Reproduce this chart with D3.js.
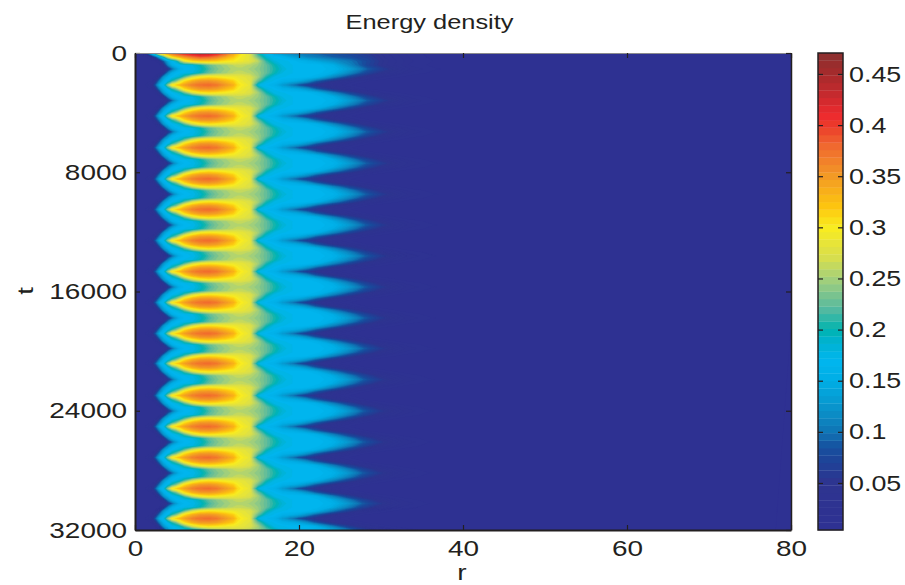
<!DOCTYPE html>
<html>
<head>
<meta charset="utf-8">
<script src="https://cdn.jsdelivr.net/npm/d3@7"></script>
<style>
  body { margin: 0; background: #fff; }
  text { font-family: "Liberation Sans", sans-serif; fill: #231f20; }
</style>
</head>
<body>
<div id="visualization"></div>
<script>
// Radius grid of the sampled profiles
const rGrid = [0,1,2,2.5,3,3.5,4,4.5,5,5.5,6,7,8,9,10,11,12,12.5,13,14,15,16,17,18,19,20,21,22,24,26,28,30,33,36,40,50,60,80];

// Energy density along r at eighths of one oscillation
const crestProfile = [.004,.006,.03,.09,.15,.175,.24,.295,.315,.33,.345,.365,.375,.378,.37,.352,.335,.31,.30,.285,.18,.165,.155,.13,.105,.08,.06,.045,.025,.012,.006,.004,.004,.004,.004,.004,.004,.004];
const nearProfile  = [.004,.004,.012,.05,.11,.155,.175,.205,.23,.27,.305,.335,.35,.352,.345,.33,.315,.30,.29,.28,.225,.18,.17,.155,.15,.14,.12,.09,.05,.025,.012,.006,.004,.004,.004,.004,.004,.004];
const sideProfile  = [.004,.004,.004,.015,.06,.125,.155,.17,.178,.19,.22,.27,.295,.303,.30,.295,.29,.287,.285,.275,.25,.205,.175,.172,.17,.17,.165,.155,.11,.07,.038,.018,.007,.005,.004,.004,.004,.004];
const farProfile   = [.004,.004,.004,.004,.01,.05,.11,.15,.165,.17,.172,.178,.20,.225,.24,.25,.26,.262,.262,.258,.245,.225,.20,.178,.172,.17,.17,.17,.15,.11,.072,.042,.017,.008,.006,.004,.004,.004];
const midProfile   = [.004,.004,.004,.004,.006,.02,.05,.09,.13,.155,.165,.172,.19,.215,.235,.245,.255,.257,.257,.25,.24,.225,.205,.185,.172,.17,.17,.17,.16,.13,.09,.06,.025,.012,.008,.004,.004,.004];

// The first pulse at t = 0 is taller and has its own profiles
const firstCrest = [.004,.03,.17,.24,.31,.34,.36,.38,.40,.41,.42,.435,.45,.445,.42,.39,.35,.325,.305,.275,.20,.17,.13,.115,.105,.10,.095,.09,.08,.07,.055,.035,.015,.007,.005,.004,.004,.004];
const firstNear  = [.004,.004,.03,.08,.14,.20,.26,.30,.32,.335,.35,.37,.385,.38,.365,.34,.32,.305,.295,.28,.23,.185,.17,.16,.14,.125,.11,.105,.09,.08,.065,.04,.017,.008,.005,.004,.004,.004];
const firstSide  = [.004,.004,.004,.01,.04,.09,.14,.165,.19,.24,.28,.31,.32,.32,.315,.305,.30,.295,.29,.28,.26,.21,.18,.175,.17,.16,.15,.14,.12,.10,.075,.045,.02,.01,.006,.004,.004,.004];

// Times of the pulses, read from the blobs
const crestTimes = [0,2150,4230,6350,8450,10500,12580,14660,16740,18820,20830,22980,25060,27140,29220,31230];

// The outer chevrons reach a little less far as t grows
const reachTimes = [0,32000];
const reachFactors = [1.04,0.97];

const rTicks = [0,20,40,60,80];
const tTicks = [0,8000,16000,24000,32000];
const barTicks = [.05,.1,.15,.2,.25,.3,.35,.4,.45];

const barStops = [.004,.05,.07,.085,.1,.12,.15,.17,.19,.2,.22,.25,.27,.3,.32,.35,.38,.4,.41,.43,.45,.4705];
const barColors = ["#2e3192","#2e3490","#1f4297","#17509f","#0f75b5","#0a90c8","#00aee5","#00b6ef","#00b2cc","#00b4b0","#55b9a0","#a5d07a","#d6de4e","#f9ec20","#fdc60f","#f39a25","#f0682f","#ea3a2b","#ee2a2e","#c62a2e","#a62a2b","#8a3030"];

const levelCount = 64;
const barMin = .004, barMax = .4705;

const margin = { top: 53, left: 135 };
const width = 656, height = 477;
const barX = 818, barW = 25;

const svg = d3.select("#visualization").append("svg")
  .attr("width", 905).attr("height", 585).style("display", "block");

const rScale = d3.scaleLinear().domain([0, 80]).range([0, width]);
const tScale = d3.scaleLinear().domain([0, 32000]).range([0, height]);
const barScale = d3.scaleLinear().domain([barMin, barMax]).range([height, 0]);
const colorScale = d3.scaleLinear().domain(barStops).range(barColors);
const reachScale = d3.scaleLinear().domain(reachTimes).range(reachFactors);

// Build the rows: one oscillation is eight rows
const rowTimes = [], rows = [];
crestTimes.forEach((c, i) => {
  const next = i < crestTimes.length - 1 ? crestTimes[i + 1] : c + 2080;
  const cycle = i === 0
    ? [firstCrest, firstNear, firstSide, farProfile, midProfile, farProfile, sideProfile, nearProfile]
    : [crestProfile, nearProfile, sideProfile, farProfile, midProfile, farProfile, sideProfile, nearProfile];
  cycle.forEach((p, k) => {
    rowTimes.push(c + (next - c) * k / 8);
    rows.push(p);
  });
});

const n = rGrid.length, m = rows.length;
const values = [];
rows.forEach(p => p.forEach(v => values.push(v)));

const step = (barMax - barMin) / levelCount;
const levels = d3.range(levelCount).map(i => barMin + i * step);

function gridValue(arr, g) {
  const a = Math.max(0, Math.min(arr.length - 1, g - 0.5));
  const i = Math.min(arr.length - 2, Math.floor(a));
  return arr[i] + (a - i) * (arr[i + 1] - arr[i]);
}

const path = d3.geoPath(d3.geoTransform({
  point(x, y) {
    const t = gridValue(rowTimes, y);
    let r = gridValue(rGrid, x);
    if (r > 18) r = 18 + (r - 18) * reachScale(t);
    this.stream.point(rScale(r), tScale(t));
  }
}));

const defs = svg.append("defs");
defs.append("clipPath").attr("id", "plot-clip")
  .append("rect").attr("width", width).attr("height", height);

const plot = svg.append("g").attr("transform", `translate(${margin.left},${margin.top})`);

// The plot background takes the lowest colour, in case a reach factor pulls the grid in
plot.append("rect").attr("width", width).attr("height", height).attr("fill", barColors[0]);

const bands = d3.contours().size([n, m]).thresholds(levels)(values);

plot.append("g").attr("clip-path", "url(#plot-clip)")
  .selectAll("path")
  .data(bands)
  .enter().append("path")
  .attr("d", path)
  .attr("fill", d => colorScale(d.value + step / 2))
  .attr("stroke", d => colorScale(d.value + step / 2))
  .attr("stroke-width", 0.3);

function stretchText(sel, stretch) {
  sel.selectAll("text").each(function () {
    const w = this.getComputedTextLength();
    d3.select(this).attr("textLength", w * stretch).attr("lengthAdjust", "spacingAndGlyphs");
  });
}

function styleAxis(g) {
  g.selectAll("text").style("font-size", "22px").attr("fill", "#231f20");
  g.selectAll("line").attr("stroke", "#231f20").attr("stroke-width", 1.2);
  g.select(".domain").attr("stroke", "#231f20").attr("stroke-width", 2);
}

// Axes, with inward ticks on all four sides
const bottomAxis = plot.append("g").attr("transform", `translate(0,${height})`)
  .call(d3.axisBottom(rScale).tickValues(rTicks).tickSize(-5).tickSizeOuter(0).tickPadding(10).tickFormat(d3.format("d")));
const leftAxis = plot.append("g")
  .call(d3.axisLeft(tScale).tickValues(tTicks).tickSize(-5).tickSizeOuter(0).tickPadding(8).tickFormat(d3.format("d")));
const topAxis = plot.append("g")
  .call(d3.axisTop(rScale).tickValues(rTicks).tickSize(-5).tickSizeOuter(0).tickFormat(""));
const rightAxis = plot.append("g").attr("transform", `translate(${width},0)`)
  .call(d3.axisRight(tScale).tickValues(tTicks).tickSize(-5).tickSizeOuter(0).tickFormat(""));

[bottomAxis, leftAxis, topAxis, rightAxis].forEach(styleAxis);
topAxis.select(".domain").attr("stroke-width", 1).attr("stroke", "#8a8a8c");
rightAxis.select(".domain").attr("stroke-width", 1.5);
stretchText(bottomAxis, 1.27);
stretchText(leftAxis, 1.27);

// Colour bar
const bar = svg.append("g").attr("transform", `translate(${barX},${margin.top})`);
bar.selectAll("rect")
  .data(levels)
  .enter().append("rect")
  .attr("x", 0)
  .attr("width", barW)
  .attr("y", d => barScale(d + step))
  .attr("height", height / levelCount + 0.3)
  .attr("fill", d => colorScale(d + step / 2));

bar.append("rect")
  .attr("width", barW).attr("height", height)
  .attr("fill", "none").attr("stroke", "#231f20").attr("stroke-width", 1.5);

const barAxis = bar.append("g").attr("transform", `translate(${barW},0)`)
  .call(d3.axisRight(barScale).tickValues(barTicks).tickSize(-5).tickSizeOuter(0).tickPadding(6).tickFormat(d3.format("")));
const barAxisLeft = bar.append("g")
  .call(d3.axisLeft(barScale).tickValues(barTicks).tickSize(-5).tickSizeOuter(0).tickFormat(""));
[barAxis, barAxisLeft].forEach(styleAxis);
barAxis.selectAll(".domain").remove();
barAxisLeft.selectAll(".domain").remove();
stretchText(barAxis, 1.22);

// Labels
const labels = svg.append("g");
labels.append("text").attr("x", 429.5).attr("y", 29)
  .attr("text-anchor", "middle").style("font-size", "20px").text("Energy density");
labels.append("text").attr("x", 462).attr("y", 580)
  .attr("text-anchor", "middle").style("font-size", "22px").text("r");
labels.append("text").attr("transform", "translate(33,291) rotate(-90)")
  .attr("text-anchor", "middle").style("font-size", "22px").text("t");
stretchText(labels, 1.27);
</script>
</body>
</html>
